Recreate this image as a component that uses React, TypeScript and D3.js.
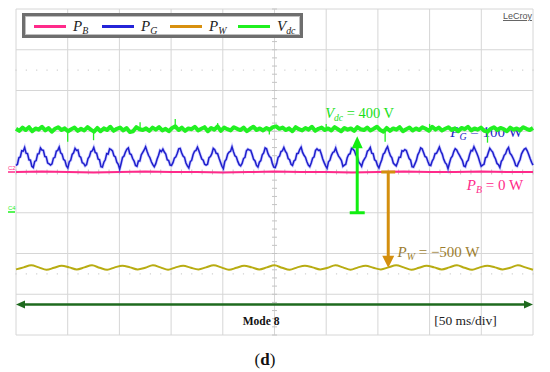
import * as d3 from 'd3';

const W = 550, H = 372;
const P = { left: 16, right: 533, top: 9, bottom: 335 };
const SERIF = 'Liberation Serif, Times New Roman, serif';

// time base: 10 div x 50 ms
const T_END = 500;
const X_GRID = d3.range(0, T_END + 1, 50);
const Y_GRID = d3.range(-4, 5, 1);
const MINOR_T = d3.range(0, T_END + 1, 10);
const MINOR_Y = d3.range(-4, 4.01, 0.2);
const DOT_ROWS = [2.5, -2.5];

// trace positions in screen divisions (0 = centre line)
const VDC = [
  1.06, 1.01, 1.09, 1.03, 1.10, 1.00, 1.07, 1.04, 1.11, 1.02,
  1.08, 0.99, 1.06, 1.10, 1.03, 1.07, 1.00, 1.05, 1.09, 1.01,
  1.06, 1.02, 1.10, 1.04, 0.99, 1.08, 1.00, 1.07, 1.03, 1.11,
  1.01, 1.06, 1.09, 1.02, 1.08, 0.98, 1.00, 1.10, 1.05, 1.03,
  1.07, 1.01, 1.09, 1.04, 1.10, 1.02, 1.06, 1.00, 1.08, 1.12,
  1.03, 1.09, 1.01, 1.07, 1.05, 1.11, 1.02, 1.06, 1.10, 1.00,
  1.08, 1.04, 1.12, 1.01, 1.09, 1.05, 1.02, 1.10, 1.06, 1.03,
  1.09, 1.00, 1.06, 1.11, 1.03, 1.07, 1.02, 1.08, 1.04, 1.10,
  1.12, 1.06, 1.09, 1.03, 1.07, 1.00, 1.10, 1.05, 1.02, 1.08,
  1.04, 1.11, 1.01, 1.06, 1.09, 1.03, 1.07, 1.02, 1.10, 1.05,
  1.00, 1.08, 1.04, 1.07, 1.01, 1.10, 1.05, 1.03, 1.09, 1.02,
  1.06, 1.11, 1.03, 0.99, 1.08, 1.01, 1.07, 1.04, 1.10, 1.00,
  1.05, 1.09, 1.02, 1.07, 1.03, 1.10, 1.06, 1.01, 1.11, 1.04,
  1.09, 1.02, 1.06, 1.10, 1.03, 1.07, 1.00, 1.08, 1.05, 1.11,
  1.02, 1.07, 1.04, 1.09, 1.01, 0.99, 1.06, 1.10, 1.03, 1.08,
  1.05, 1.00, 1.09, 1.04, 1.07, 1.02, 1.10, 1.06, 1.03, 1.08,
];
// narrow glitches on the V_dc trace (ms, div)
const VDC_SPIKES = [
  { t: 50, v: 0.74 }, { t: 75, v: 0.78 }, { t: 120, v: 1.22 }, { t: 154, v: 1.30 },
  { t: 195, v: 1.20 }, { t: 245, v: 0.92 }, { t: 300, v: 1.18 }, { t: 357, v: 0.74 },
  { t: 400, v: 1.18 }, { t: 456, v: 0.72 },
];

const PG = [
  0.16, 0.19, 0.35, 0.37, 0.52, 0.51, 0.60, 0.46, 0.45, 0.30, 0.29, 0.14,
  0.11, 0.26, 0.28, 0.44, 0.45, 0.59, 0.54, 0.53, 0.38, 0.37, 0.22, 0.20,
  0.17, 0.20, 0.34, 0.36, 0.51, 0.53, 0.61, 0.47, 0.44, 0.31, 0.28, 0.15,
  0.10, 0.25, 0.29, 0.43, 0.47, 0.58, 0.53, 0.54, 0.39, 0.36, 0.23, 0.21,
  0.15, 0.18, 0.33, 0.38, 0.50, 0.52, 0.60, 0.48, 0.46, 0.32, 0.30, 0.13,
  0.12, 0.24, 0.30, 0.45, 0.44, 0.57, 0.55, 0.52, 0.40, 0.37, 0.24, 0.19,
  0.07, 0.21, 0.36, 0.39, 0.49, 0.56, 0.59, 0.45, 0.43, 0.33, 0.27, 0.16,
  0.14, 0.27, 0.27, 0.42, 0.48, 0.54, 0.62, 0.51, 0.41, 0.35, 0.25, 0.18,
  0.13, 0.20, 0.32, 0.41, 0.53, 0.50, 0.56, 0.49, 0.44, 0.30, 0.28, 0.17,
  0.16, 0.23, 0.34, 0.37, 0.46, 0.57, 0.58, 0.47, 0.39, 0.36, 0.22, 0.15,
  0.10, 0.25, 0.29, 0.43, 0.51, 0.53, 0.61, 0.52, 0.42, 0.32, 0.29, 0.19,
  0.17, 0.19, 0.35, 0.38, 0.45, 0.58, 0.55, 0.46, 0.45, 0.34, 0.24, 0.14,
  0.08, 0.26, 0.31, 0.44, 0.49, 0.51, 0.62, 0.50, 0.40, 0.37, 0.26, 0.18,
  0.15, 0.21, 0.33, 0.36, 0.52, 0.56, 0.54, 0.53, 0.43, 0.31, 0.27, 0.16,
  0.12, 0.24, 0.28, 0.42, 0.47, 0.59, 0.57, 0.45, 0.38, 0.35, 0.21, 0.12,
  0.11, 0.20, 0.36, 0.39, 0.50, 0.52, 0.60, 0.51, 0.46, 0.33, 0.30, 0.19,
  0.16, 0.27, 0.30, 0.45, 0.46, 0.55, 0.61, 0.48, 0.41, 0.36, 0.25, 0.17,
  0.13, 0.22, 0.34, 0.37, 0.53, 0.57, 0.53, 0.54, 0.44, 0.32, 0.23, 0.15,
  0.09, 0.25, 0.29, 0.41, 0.48, 0.50, 0.59, 0.47, 0.39, 0.34, 0.28, 0.14,
  0.17, 0.19, 0.35, 0.43, 0.45, 0.58, 0.56, 0.52, 0.42, 0.37, 0.24, 0.20,
  0.14, 0.26, 0.32, 0.38, 0.51, 0.54, 0.60, 0.46, 0.45, 0.30, 0.27, 0.16,
  0.10, 0.21, 0.30, 0.44, 0.47, 0.56, 0.62, 0.50, 0.40, 0.35, 0.22, 0.18,
  0.15, 0.24, 0.36, 0.36, 0.52, 0.51, 0.55, 0.53, 0.43, 0.33, 0.29, 0.13,
  0.12, 0.20, 0.28, 0.42, 0.49, 0.59, 0.57, 0.48, 0.38, 0.36, 0.26, 0.17,
  0.16, 0.27, 0.33, 0.45, 0.46, 0.53, 0.61, 0.51, 0.44, 0.31, 0.23, 0.19,
  0.08, 0.22, 0.34, 0.39, 0.50, 0.57, 0.54, 0.47, 0.41, 0.34, 0.28, 0.15,
  0.13, 0.25, 0.29, 0.43, 0.53, 0.52, 0.62, 0.54, 0.46, 0.37, 0.25, 0.14,
  0.17, 0.19, 0.35, 0.37, 0.48, 0.58, 0.53, 0.49, 0.39, 0.32, 0.21, 0.18,
  0.11, 0.26, 0.31, 0.41, 0.45, 0.55, 0.60, 0.46, 0.42, 0.35, 0.27, 0.16,
  0.14, 0.23, 0.30, 0.44, 0.51, 0.56, 0.58, 0.52, 0.43, 0.33, 0.24, 0.17,
];

const PB = [0, 0.01, 0, -0.01, 0, 0.01, 0, 0, -0.01, 0, 0.01, 0, 0, -0.01, 0, 0.01, 0, 0, 0.01, 0, 0];

const PW = [
  -2.39, -2.34, -2.29, -2.34, -2.40, -2.35, -2.30, -2.34, -2.39, -2.34, -2.29, -2.35,
  -2.40, -2.34, -2.30, -2.34, -2.39, -2.35, -2.29, -2.34, -2.40, -2.34, -2.30, -2.35,
  -2.39, -2.34, -2.29, -2.34, -2.40, -2.35, -2.30, -2.34, -2.39, -2.34, -2.29, -2.35,
  -2.40, -2.34, -2.30, -2.34, -2.39, -2.35, -2.29, -2.34, -2.40, -2.34, -2.30, -2.35,
  -2.39, -2.34, -2.29, -2.34, -2.40, -2.35, -2.30, -2.34, -2.39, -2.34, -2.29, -2.35,
  -2.40, -2.34, -2.30, -2.34, -2.39, -2.35, -2.29, -2.34, -2.40,
];

const LEGEND = [
  { main: 'P', sub: 'B', color: '#ff2a8a' },
  { main: 'P', sub: 'G', color: '#2424d8' },
  { main: 'P', sub: 'W', color: '#d8900e' },
  { main: 'V', sub: 'dc', color: '#1ff01f' },
];

// annotation anchors (ms, div)
const VDC_ARROW = { t: 330, from: -1.0, to: 0.88 };
const PW_ARROW = { t: 360, from: 0, to: -2.35 };

const x = d3.scaleLinear().domain([0, T_END]).range([P.left, P.right]);
const y = d3.scaleLinear().domain([-4, 4]).range([P.bottom, P.top]);

const trace = (vals: number[], curve: d3.CurveFactory = d3.curveLinear) =>
  d3.line<number>()
    .x((_, i) => x((i * T_END) / (vals.length - 1)))
    .y(v => y(v))
    .curve(curve)(vals) ?? '';

function Lbl({ px, py, main, sub, rest, color, size = 15 }: any) {
  return (
    <text x={px} y={py} fill={color} fontFamily={SERIF} fontSize={size}>
      <tspan fontStyle="italic">{main}</tspan>
      <tspan fontStyle="italic" fontSize={size * 0.66} dy={3}>{sub}</tspan>
      {rest && <tspan dy={-3}>{rest}</tspan>}
    </text>
  );
}

export default function App() {
  const cx = x(T_END / 2), cy = y(0);

  // green arrow (up)
  const gx = x(VDC_ARROW.t), gTip = y(VDC_ARROW.to), gBase = y(VDC_ARROW.from);
  // orange arrow (down)
  const ox = x(PW_ARROW.t), oTop = y(PW_ARROW.from), oTip = y(PW_ARROW.to);
  const dy = y(-3.25);

  return (
    <svg width={W} height={H} style={{ position: 'absolute', left: 0, top: 0, background: '#fff' }}>
      <rect width={W} height={H} fill="#fff" />

      {/* graticule */}
      {X_GRID.map(t => (
        <line key={'vx' + t} x1={x(t)} x2={x(t)} y1={P.top} y2={P.bottom} stroke="#d6d6d6" strokeWidth={1} />
      ))}
      {Y_GRID.map(v => (
        <line key={'hy' + v} x1={P.left} x2={P.right} y1={y(v)} y2={y(v)} stroke="#d6d6d6" strokeWidth={1} />
      ))}
      {MINOR_Y.map(v => (
        <line key={'my' + v} x1={cx - 2.5} x2={cx + 2.5} y1={y(v)} y2={y(v)} stroke="#c4c4c4" strokeWidth={1} />
      ))}
      {MINOR_T.map(t => (
        <line key={'mt' + t} x1={x(t)} x2={x(t)} y1={cy - 2.5} y2={cy + 2.5} stroke="#c4c4c4" strokeWidth={1} />
      ))}
      {DOT_ROWS.map(v => MINOR_T.map(t => (
        <rect key={'d' + v + t} x={x(t) - 0.6} y={y(v) - 0.6} width={1.2} height={1.2} fill="#cfcfcf" />
      )))}

      {/* legend */}
      <rect x={23.5} y={14.5} width={278} height={22} fill="#fff" stroke="#6e6e6e" strokeWidth={3} />
      <rect x={25.5} y={16.5} width={274} height={18} fill="none" stroke="#b0b0b0" strokeWidth={0.8} />
      {LEGEND.map((s, i) => {
        const lx = 34 + i * 68;
        return (
          <g key={s.sub}>
            <line x1={lx} x2={lx + 32} y1={26.5} y2={26.5} stroke={s.color} strokeWidth={3} />
            <Lbl px={lx + 39} py={30.5} main={s.main} sub={s.sub} color="#222" size={15} />
          </g>
        );
      })}
      <text x={532} y={19} textAnchor="end" fontFamily="Liberation Sans, Arial, sans-serif" fontSize={9}
        fill="#555" textDecoration="underline">LeCroy</text>

      {/* channel markers */}
      <text x={8} y={170} fontFamily="Liberation Sans, Arial, sans-serif" fontSize={6} fill="#ff2a8a">C2</text>
      <line x1={8} x2={15} y1={172} y2={172} stroke="#ff2a8a" strokeWidth={1.5} />
      <text x={8} y={210} fontFamily="Liberation Sans, Arial, sans-serif" fontSize={6} fill="#1ff01f">C4</text>
      <line x1={8} x2={15} y1={212} y2={212} stroke="#1ff01f" strokeWidth={1.5} />

      {/* labels under the traces */}
      <Lbl px={x(420)} py={y(0.86)} main="P" sub="G" rest=" = 100 W" color="#2424c8" />

      {/* traces */}
      <path d={trace(PW, d3.curveCatmullRom)} fill="none" stroke="#b8ac12" strokeWidth={2} />
      <path d={trace(PB)} fill="none" stroke="#ff2a8a" strokeWidth={2} />
      <path d={trace(PG)} fill="none" stroke="#6a6aff" strokeWidth={3} opacity={0.35} />
      <path d={trace(PG)} fill="none" stroke="#1f1fcc" strokeWidth={1.5} />
      {VDC_SPIKES.map(s => (
        <line key={'sp' + s.t} x1={x(s.t)} x2={x(s.t)} y1={y(1.05)} y2={y(s.v)} stroke="#22f022" strokeWidth={1.3} />
      ))}
      <path d={trace(VDC)} fill="none" stroke="#22f022" strokeWidth={4} strokeLinejoin="round" />

      {/* annotations */}
      <Lbl px={x(299)} py={y(1.33)} main="V" sub="dc" rest=" = 400 V" color="#19e019" size={14.5} />
      <Lbl px={x(436)} py={y(-0.44)} main="P" sub="B" rest=" = 0 W" color="#ff2a8a" />
      <Lbl px={x(369)} py={y(-2.09)} main="P" sub="W" rest=" = −500 W" color="#9c7d2e" />

      <line x1={gx} x2={gx} y1={gTip + 10} y2={gBase} stroke="#11ee11" strokeWidth={3} />
      <path d={`M${gx},${gTip} L${gx - 5.5},${gTip + 12} L${gx + 5.5},${gTip + 12} Z`} fill="#11ee11" />
      <line x1={gx - 7.5} x2={gx + 7.5} y1={gBase} y2={gBase} stroke="#11ee11" strokeWidth={3} />

      <line x1={ox} x2={ox} y1={oTop} y2={oTip - 10} stroke="#d48f0e" strokeWidth={3} />
      <path d={`M${ox},${oTip} L${ox - 6},${oTip - 12} L${ox + 6},${oTip - 12} Z`} fill="#d48f0e" />
      <line x1={ox - 7} x2={ox + 7} y1={oTop} y2={oTop} stroke="#d48f0e" strokeWidth={3} />

      {/* mode span */}
      <line x1={x(0) + 6} x2={x(T_END) - 6} y1={dy} y2={dy} stroke="#1e6a1e" strokeWidth={2.6} />
      <path d={`M${x(0)},${dy} L${x(0) + 9},${dy - 4} L${x(0) + 9},${dy + 4} Z`} fill="#1e6a1e" />
      <path d={`M${x(T_END)},${dy} L${x(T_END) - 9},${dy - 4} L${x(T_END) - 9},${dy + 4} Z`} fill="#1e6a1e" />

      <text x={x(237)} y={y(-3.75)} textAnchor="middle" fontFamily={SERIF} fontWeight="bold" fontSize={11.5} fill="#111">Mode 8</text>
      <text x={x(465)} y={y(-3.75)} textAnchor="end" fontFamily={SERIF} fontSize={13.5} fill="#222">[50 ms/div]</text>

      <text x={265} y={365} textAnchor="middle" fontFamily={SERIF} fontSize={17} fill="#111">
        (<tspan fontWeight="bold">d</tspan>)
      </text>
    </svg>
  );
}
